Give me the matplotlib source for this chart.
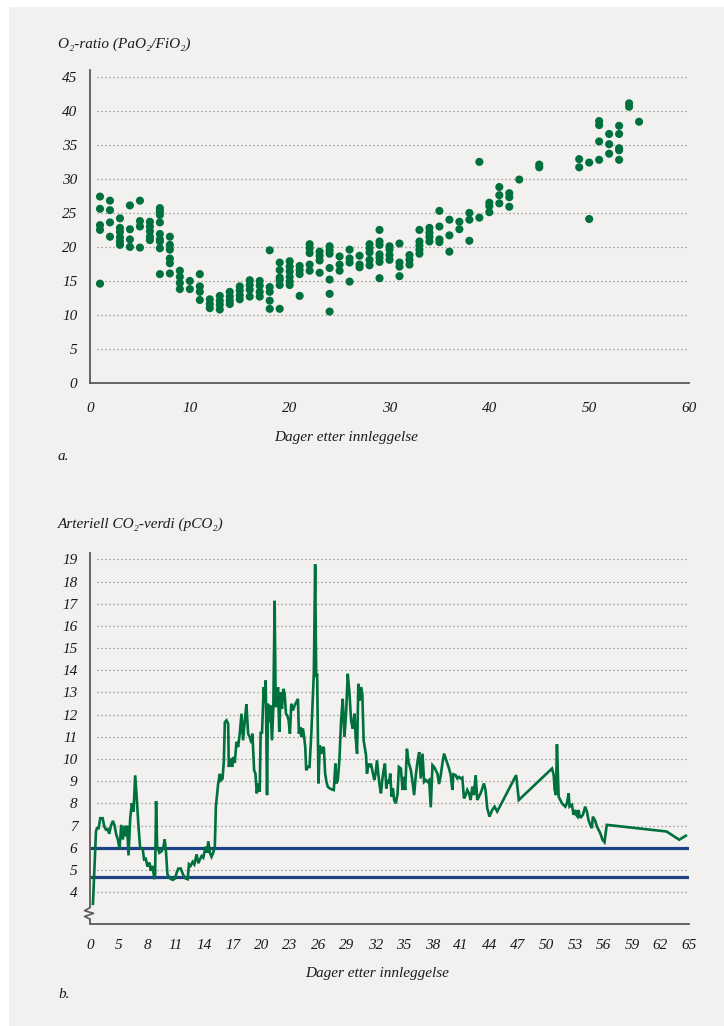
import matplotlib
matplotlib.use("Agg")
import matplotlib.pyplot as plt
import matplotlib.transforms as mtransforms
from matplotlib.patches import Rectangle

# ---------------------------------------------------------------- data
# Panel a: O2-ratio (PaO2/FiO2) per day after admission
o2_days = [1, 2, 3, 4, 5, 6, 7, 8, 9, 10, 11, 12, 13, 14, 15, 16, 17, 18, 19,
           20, 21, 22, 23, 24, 25, 26, 27, 28, 29, 30, 31, 32, 33, 34, 35, 36,
           37, 38, 39, 40, 41, 42, 43, 45, 49, 50, 51, 52, 53, 54, 55]
o2_values = [
    [27.4, 25.6, 23.2, 22.5, 14.6],
    [26.8, 25.4, 23.6, 21.5],
    [24.2, 22.8, 22.2, 21.4, 20.8, 20.3],
    [26.1, 22.6, 21.1, 20.0],
    [26.8, 23.8, 23.0, 19.9],
    [23.7, 23.0, 22.3, 21.5, 21.0],
    [25.7, 25.2, 24.7, 23.6, 21.9, 21.1, 20.8, 19.8, 16.0],
    [21.5, 20.3, 19.6, 18.3, 17.6, 16.1],
    [16.5, 15.6, 14.7, 13.8],
    [15.0, 13.8],
    [16.0, 14.2, 13.4, 12.2],
    [12.3, 11.6, 11.0],
    [12.8, 12.1, 11.5, 10.8],
    [13.4, 12.7, 12.1, 11.6],
    [14.2, 13.6, 12.9, 12.3],
    [15.1, 14.4, 13.7, 12.7],
    [15.0, 14.3, 13.4, 12.7],
    [19.5, 14.1, 13.4, 12.1, 10.9],
    [17.7, 16.6, 15.5, 15.1, 14.4, 10.9],
    [17.9, 17.1, 16.4, 15.6, 14.9, 14.4],
    [17.2, 16.6, 16.0, 12.8],
    [20.4, 19.8, 19.1, 17.4, 16.5],
    [19.3, 18.7, 18.0, 16.2],
    [20.1, 19.5, 19.0, 16.9, 15.2, 13.1, 10.5],
    [18.6, 17.4, 16.5],
    [19.6, 18.3, 17.7, 14.9],
    [18.7, 17.4, 17.0],
    [20.4, 19.8, 19.2, 18.1, 17.3],
    [22.5, 20.8, 20.3, 18.9, 18.4, 17.8, 15.4],
    [20.1, 19.6, 18.8, 18.1],
    [20.5, 17.7, 17.1, 15.7],
    [18.8, 18.1, 17.4],
    [22.5, 20.8, 20.2, 19.6, 19.0],
    [22.8, 22.1, 21.5, 20.8],
    [25.3, 23.0, 21.1, 20.7],
    [24.0, 21.7, 19.3],
    [23.7, 22.6],
    [25.0, 24.0, 20.9],
    [32.5, 24.3],
    [26.5, 26.0, 25.1],
    [28.8, 27.6, 26.4],
    [27.9, 27.3, 25.9],
    [29.9],
    [32.1, 31.7],
    [32.9, 31.7],
    [32.4, 24.1],
    [38.5, 37.9, 35.5, 32.8],
    [36.6, 35.1, 33.7],
    [37.8, 36.6, 34.5, 34.2, 32.8],
    [41.1, 40.6],
    [38.4],
]
o2_yticks = [0, 5, 10, 15, 20, 25, 30, 35, 40, 45]
o2_xticks = [0, 10, 20, 30, 40, 50, 60]

# Panel b: arterial pCO2 (kPa) over the stay
pco2_day = [
    2.31, 2.63, 2.73, 2.91, 3.08, 3.33, 3.50, 3.68, 3.85, 4.03, 4.20, 4.41,
    4.59, 4.76, 4.93, 5.11, 5.28, 5.46, 5.63, 5.81, 5.91, 6.05, 6.23, 6.40,
    6.58, 6.75, 6.93, 7.10, 7.27, 7.55, 7.69, 7.87, 8.04, 8.25, 8.39, 8.57,
    8.78, 8.85, 8.95, 9.06, 9.30, 9.55, 9.72, 9.86, 10.00, 10.14, 10.42,
    10.70, 10.94, 11.12, 11.29, 11.54, 11.82, 12.06, 12.27, 12.41, 12.58,
    12.79, 12.97, 13.21, 13.39, 13.56, 13.74, 13.91, 14.16, 14.33, 14.44,
    14.61, 14.78, 14.96, 15.13, 15.24, 15.48, 15.66, 15.76, 15.94, 16.08,
    16.18, 16.36, 16.53, 16.60, 16.78, 16.95, 17.06, 17.23, 17.40, 17.58,
    17.75, 17.93, 18.10, 18.28, 18.45, 18.63, 18.80, 18.98, 19.08, 19.26,
    19.40, 19.54, 19.68, 19.85, 19.95, 20.09, 20.27, 20.37, 20.48, 20.62,
    20.72, 20.83, 20.97, 21.14, 21.28, 21.42, 21.53, 21.70, 21.77, 21.91,
    22.05, 22.19, 22.33, 22.47, 22.61, 22.75, 22.89, 23.03, 23.17, 23.34,
    23.52, 23.69, 23.87, 23.97, 24.11, 24.22, 24.39, 24.50, 24.64, 24.74,
    24.91, 25.09, 25.26, 25.44, 25.54, 25.68, 25.79, 25.89, 26.03, 26.17,
    26.31, 26.45, 26.59, 26.73, 26.87, 27.01, 27.22, 27.43, 27.64, 27.71,
    27.81, 27.92, 28.06, 28.23, 28.41, 28.58, 28.76, 28.93, 29.11, 29.28,
    29.46, 29.63, 29.81, 29.94, 30.09, 30.22, 30.36, 30.50, 30.64, 30.78,
    30.92, 31.03, 31.13, 31.27, 31.41, 31.55, 31.73, 31.90, 32.04, 32.18,
    32.32, 32.46, 32.60, 32.74, 32.88, 33.02, 33.16, 33.30, 33.44, 33.58,
    33.72, 33.86, 33.99, 34.17, 34.35, 34.49, 34.70, 34.87, 34.98, 35.15,
    35.33, 35.50, 35.75, 35.92, 36.09, 36.27, 36.44, 36.62, 36.79, 36.97,
    37.14, 37.32, 37.49, 37.67, 37.84, 38.02, 38.19, 38.37, 38.54, 38.71,
    38.89, 39.06, 39.24, 39.41, 39.59, 39.76, 39.94, 40.11, 40.22, 40.46,
    40.64, 40.81, 40.99, 41.16, 41.33, 41.51, 41.68, 41.86, 42.03, 42.21,
    42.38, 42.56, 42.73, 42.91, 43.08, 43.26, 43.43, 43.60, 43.78, 44.02,
    44.30, 44.55, 44.83, 46.82, 47.10, 50.59, 50.77, 50.87, 51.01, 51.11,
    51.29, 51.46, 51.64, 51.81, 51.99, 52.16, 52.34, 52.44, 52.69, 52.86,
    53.04, 53.14, 53.28, 53.39, 53.49, 53.63, 53.84, 54.08, 54.26, 54.43,
    54.61, 54.78, 54.89, 55.13, 55.31, 55.66, 55.90, 56.11, 56.35, 62.64,
    63.97, 64.67,
]
pco2_value = [
    3.47, 6.74, 6.88, 6.88, 7.33, 7.33, 6.96, 6.81, 6.84, 6.63, 6.99, 7.21,
    6.99, 6.59, 6.37, 5.95, 7.03, 6.37, 6.99, 6.51, 6.99, 5.65, 7.33, 8.00,
    7.63, 9.26, 8.15, 6.96, 6.00, 5.92, 5.47, 5.50, 5.15, 5.33, 4.96, 5.18,
    4.58, 4.81, 8.10, 6.07, 5.77, 5.85, 6.04, 6.37, 5.77, 4.81, 4.61,
    4.55, 4.61, 4.88, 5.06, 5.06, 4.76, 4.61, 4.58, 5.25, 5.18,
    5.36, 5.25, 5.70, 5.30, 5.47, 5.62, 5.55, 6.04, 5.77, 6.29,
    5.77, 5.59, 5.77, 6.07, 7.85, 8.89, 9.33, 9.04, 9.11, 9.93,
    11.66, 11.74, 11.59, 9.64, 10.02, 9.64, 10.09, 9.82, 10.77, 10.54,
    11.14, 12.04, 10.84, 11.74, 12.46, 11.14, 10.99, 10.72, 11.14, 9.49,
    9.34, 8.45, 8.90, 8.52, 11.22, 11.14, 13.24, 12.52, 13.54, 8.37,
    12.49, 11.66, 12.41, 10.84, 12.34, 17.13, 12.34, 12.49, 13.24, 11.22,
    13.01, 12.26, 13.16, 12.94, 12.04, 11.96, 11.74, 11.14, 12.49, 12.19,
    12.41, 12.56, 12.71, 11.14, 11.44, 10.99, 11.37, 11.07, 10.54, 9.49,
    9.64, 9.64, 10.99, 12.79, 13.84, 18.77, 13.69, 13.84, 8.90, 10.62,
    10.24, 10.47, 10.54, 9.34, 8.97, 8.75, 8.67, 8.63, 8.60, 9.05,
    9.79, 8.90, 9.05, 9.94, 11.74, 12.71, 10.99, 12.04, 13.84, 13.01,
    11.74, 11.37, 12.04, 10.99, 10.24, 13.39, 12.64, 13.24, 12.94, 10.84,
    10.47, 10.17, 9.34, 9.79, 9.64, 9.79, 9.42, 9.05, 9.34, 9.94,
    9.34, 8.82, 8.45, 9.05, 9.49, 9.79, 8.67, 9.05, 8.90, 9.34,
    8.30, 8.67, 8.15, 8.00, 8.45, 9.64, 9.57, 8.60, 9.19, 8.60,
    10.46, 9.87, 9.49, 8.97, 8.37, 9.27, 9.87, 10.31, 9.12, 10.24,
    8.97, 9.05, 8.97, 9.05, 7.82, 9.72, 9.64, 9.49, 9.34, 8.87,
    9.27, 9.79, 10.24, 10.02, 9.79, 9.57, 9.27, 8.60, 9.31, 9.27,
    9.12, 9.19, 9.12, 9.16, 8.22, 8.37, 8.60, 8.45, 8.15, 8.75,
    8.37, 9.27, 8.15, 8.30, 8.45, 8.67, 8.90, 8.60, 7.78, 7.40,
    7.70, 7.85, 7.63, 9.27, 8.15, 9.57, 9.27, 8.60, 8.37, 10.66,
    8.30, 8.15, 8.00, 7.93, 7.85, 8.00, 8.45, 7.85, 7.93, 7.48,
    7.70, 7.48, 7.40, 7.70, 7.40, 7.37, 7.48, 7.85, 7.63, 7.25,
    7.03, 6.88, 7.40, 7.22, 6.96, 6.66, 6.36, 6.25, 7.03, 6.73,
    6.36, 6.54,
]
pco2_ref_low = 4.7
pco2_ref_high = 6.0
pco2_yticks = list(range(4, 20))
pco2_tick_days = [2, 5, 8, 11, 14, 17, 20, 23, 26, 29, 32, 35, 38, 41, 44,
                  47, 50, 53, 56, 59, 62, 65]
pco2_tick_labels = ["0", "5", "8", "11", "14", "17", "20", "23", "26", "29",
                    "32", "35", "38", "41", "44", "47", "50", "53", "56",
                    "59", "62", "65"]

# ---------------------------------------------------------------- style
BG = "#f2f1ef"
GREEN = "#00703c"
BLUE = "#1c4184"
GRID = "#8c8c8c"
SPINE = "#5a5a5a"
TEXT = "#1a1a1a"
FONT = ["Liberation Serif", "DejaVu Serif"]

plt.rcParams["font.family"] = FONT
plt.rcParams["font.style"] = "italic"

fig = plt.figure(figsize=(7.24, 10.26), dpi=100, facecolor="white")
fig.patches.append(Rectangle((9 / 724, 0), 1, 1 - 7 / 1026,
                             transform=fig.transFigure, facecolor=BG,
                             edgecolor="none", zorder=-10))


def style_axes(ax):
    ax.set_facecolor("none")
    for side in ("top", "right"):
        ax.spines[side].set_visible(False)
    for side in ("left", "bottom"):
        ax.spines[side].set_color(SPINE)
        ax.spines[side].set_linewidth(1.3)
    ax.tick_params(length=0, labelsize=11, colors=TEXT)


def italic_ticks(ax):
    for lab in ax.get_xticklabels() + ax.get_yticklabels():
        lab.set_fontstyle("italic")


# ---------------------------------------------------------------- panel a
ax1 = fig.add_axes([90 / 724, 1 - 383 / 1026, 599 / 724, 313 / 1026])
style_axes(ax1)
ax1.set_xlim(0, 60)
ax1.set_ylim(0, 46)
gx = mtransforms.blended_transform_factory(ax1.transAxes, ax1.transData)
for v in o2_yticks[1:]:
    ax1.plot([0.012, 1.0], [v, v], transform=gx, color=GRID, lw=0.9,
             ls=(0, (1, 2.2)), zorder=1)
xs, ys = [], []
for d, vals in zip(o2_days, o2_values):
    xs.extend([d] * len(vals))
    ys.extend(vals)
ax1.scatter(xs, ys, s=34, color=GREEN, edgecolors="none", zorder=3)
ax1.set_xticks(o2_xticks)
ax1.set_yticks(o2_yticks)
ax1.tick_params(axis="y", pad=9)
ax1.tick_params(axis="x", pad=14)
italic_ticks(ax1)

fig.text(58 / 724, 1 - 44 / 1026, "O₂-ratio (PaO₂/FiO₂)", fontsize=11,
         style="italic", va="center", ha="left", color=TEXT)
fig.text(346 / 724, 1 - 437 / 1026, "Dager etter innleggelse", fontsize=11,
         style="italic", va="center", ha="center", color=TEXT)
fig.text(58 / 724, 1 - 456 / 1026, "a.", fontsize=11, style="italic",
         va="center", ha="left", color=TEXT)

# ---------------------------------------------------------------- panel b
y_lo, y_hi = 2.56, 19.33
ax2 = fig.add_axes([90 / 724, 1 - 924 / 1026, 599 / 724, 372 / 1026])
style_axes(ax2)
ax2.set_xlim(2, 65)
ax2.set_ylim(y_lo, y_hi)
gx2 = mtransforms.blended_transform_factory(ax2.transAxes, ax2.transData)
for v in pco2_yticks:
    ax2.plot([0.012, 1.0], [v, v], transform=gx2, color=GRID, lw=0.9,
             ls=(0, (1, 2.2)), zorder=1)
for v in (pco2_ref_high, pco2_ref_low):
    ax2.plot([0.0, 1.0], [v, v], transform=gx2, color=BLUE, lw=2.3,
             zorder=2, solid_capstyle="butt")
ax2.plot(pco2_day, pco2_value, color=GREEN, lw=1.9, zorder=3,
         solid_joinstyle="miter")
ax2.set_yticks(pco2_yticks)
ax2.set_xticks(pco2_tick_days)
ax2.set_xticklabels(pco2_tick_labels)
ax2.tick_params(axis="y", pad=9)
ax2.tick_params(axis="x", pad=11)
italic_ticks(ax2)

# axis break on the y axis
ax2.spines["left"].set_visible(False)
ax2.plot([0, 0], [3.3, y_hi], transform=gx2, color=SPINE, lw=1.3,
         clip_on=False, solid_capstyle="butt")
ax2.plot([0, 0], [y_lo, 2.78], transform=gx2, color=SPINE, lw=1.3,
         clip_on=False, solid_capstyle="butt")
zx = [0.0, -0.009, 0.006, -0.009, 0.0]
zy = [3.3, 3.16, 3.04, 2.9, 2.78]
ax2.plot(zx, zy, transform=gx2, color=SPINE, lw=1.2, clip_on=False)

fig.text(58 / 724, 1 - 524 / 1026, "Arteriell CO₂-verdi (pCO₂)", fontsize=11,
         style="italic", va="center", ha="left", color=TEXT)
fig.text(377 / 724, 1 - 973 / 1026, "Dager etter innleggelse", fontsize=11,
         style="italic", va="center", ha="center", color=TEXT)
fig.text(58 / 724, 1 - 994 / 1026, "b.", fontsize=11, style="italic",
         va="center", ha="left", color=TEXT)

fig.savefig("out.png", dpi=100, facecolor="white")
